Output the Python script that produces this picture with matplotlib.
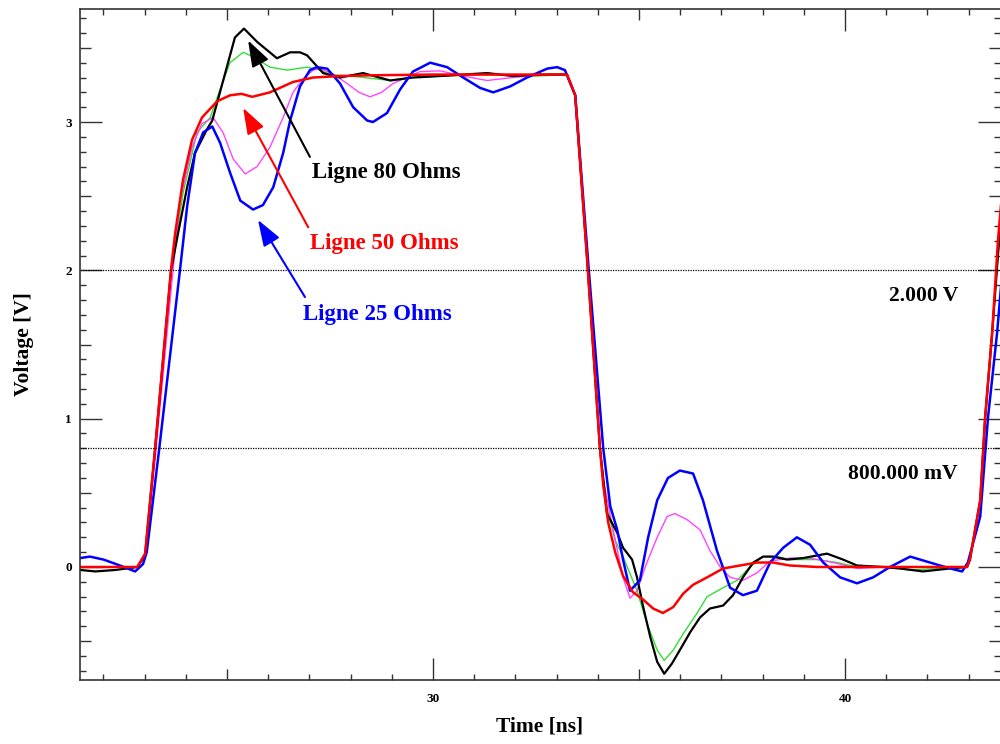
import matplotlib
matplotlib.use("Agg")
import matplotlib.pyplot as plt
from matplotlib.ticker import FixedLocator, MultipleLocator, FuncFormatter

# traces: (time ns, voltage V)
ligne80 = [(21.43, -0.02), (21.8, -0.03), (22.3, -0.02), (22.82, 0.0), (23.01, 0.08), (23.25, 0.79),
           (23.64, 2.0), (23.81, 2.25), (24.03, 2.56), (24.22, 2.79), (24.51, 2.95), (24.64, 3.01),
           (25.19, 3.57), (25.41, 3.63), (25.73, 3.54), (26.21, 3.43), (26.53, 3.47), (26.77, 3.47),
           (26.94, 3.45), (27.33, 3.33), (27.74, 3.30), (28.30, 3.33), (28.96, 3.28), (29.51, 3.30),
           (30.17, 3.31), (31.31, 3.33), (31.94, 3.31), (32.6, 3.32), (33.08, 3.32), (33.25, 3.32),
           (33.45, 3.18), (33.74, 2.07), (34.05, 0.80), (34.22, 0.36), (34.47, 0.23), (34.61, 0.13),
           (34.83, 0.05), (34.95, -0.07), (35.10, -0.27), (35.27, -0.47), (35.44, -0.64), (35.61, -0.72),
           (35.80, -0.65), (35.99, -0.56), (36.24, -0.44), (36.48, -0.34), (36.72, -0.28), (37.04, -0.26),
           (37.28, -0.19), (37.52, -0.07), (37.77, 0.03), (38.01, 0.07), (38.25, 0.07), (38.59, 0.05),
           (38.98, 0.06), (39.56, 0.09), (39.95, 0.05), (40.29, 0.01), (40.92, 0.0), (41.33, -0.01),
           (41.89, -0.03), (42.55, -0.01), (42.96, 0.0), (43.03, 0.05), (43.28, 0.45), (43.40, 1.01),
           (43.57, 1.58), (43.71, 2.1), (43.88, 2.7)]

ligne65 = [(21.43, 0.0), (22.82, 0.0), (23.01, 0.08), (23.25, 0.79), (23.64, 2.0), (23.81, 2.3),
           (23.93, 2.52), (24.27, 2.93), (24.59, 3.03), (24.83, 3.22), (25.07, 3.40), (25.39, 3.47),
           (25.63, 3.44), (26.04, 3.37), (26.46, 3.35), (26.94, 3.37), (27.26, 3.35), (27.50, 3.32),
           (28.0, 3.31), (28.96, 3.28), (29.5, 3.30), (30.2, 3.31), (31.3, 3.32), (32.5, 3.31),
           (33.25, 3.32), (33.45, 3.18), (33.74, 2.07), (34.05, 0.80), (34.22, 0.40), (34.42, 0.18),
           (34.61, 0.07), (34.95, -0.16), (35.19, -0.38), (35.44, -0.56), (35.61, -0.63), (35.83, -0.56),
           (36.07, -0.45), (36.41, -0.31), (36.65, -0.20), (37.04, -0.14), (37.38, -0.09), (37.69, 0.0),
           (38.01, 0.07), (38.35, 0.07), (38.66, 0.05), (39.32, 0.05), (39.81, 0.03), (40.12, 0.01),
           (40.9, 0.0), (41.6, -0.02), (42.3, -0.01), (42.96, 0.0), (43.03, 0.05), (43.28, 0.45),
           (43.40, 1.01), (43.57, 1.58), (43.71, 2.1), (43.88, 2.7)]

ligne50 = [(21.43, 0.0), (22.0, 0.0), (22.82, 0.0), (23.01, 0.09), (23.25, 0.79), (23.64, 2.01),
           (23.74, 2.25), (23.93, 2.61), (24.15, 2.88), (24.39, 3.03), (24.76, 3.14), (25.07, 3.18),
           (25.35, 3.19), (25.61, 3.17), (26.04, 3.20), (26.60, 3.27), (27.09, 3.30), (27.74, 3.31),
           (28.5, 3.315), (30.0, 3.32), (32.0, 3.32), (33.08, 3.32), (33.25, 3.32), (33.45, 3.18),
           (33.74, 2.07), (34.05, 0.80), (34.13, 0.55), (34.25, 0.30), (34.42, 0.10), (34.61, -0.06),
           (34.85, -0.17), (35.10, -0.22), (35.34, -0.28), (35.58, -0.31), (35.83, -0.27), (36.07, -0.18),
           (36.31, -0.12), (36.65, -0.07), (37.04, -0.01), (37.45, 0.01), (37.86, 0.03), (38.25, 0.03),
           (38.66, 0.01), (39.32, 0.0), (40.0, 0.0), (42.0, 0.0), (42.96, 0.0), (43.03, 0.05),
           (43.28, 0.45), (43.40, 1.01), (43.57, 1.58), (43.71, 2.2), (43.88, 2.75)]

ligne35 = [(21.43, 0.0), (22.82, 0.0), (23.01, 0.07), (23.25, 0.72), (23.67, 1.95), (23.86, 2.47),
           (24.15, 2.83), (24.39, 2.99), (24.66, 3.03), (24.90, 2.93), (25.15, 2.75), (25.44, 2.65),
           (25.73, 2.70), (26.04, 2.83), (26.36, 3.03), (26.60, 3.20), (26.84, 3.29), (27.09, 3.35),
           (27.26, 3.36), (27.6, 3.32), (27.91, 3.26), (28.2, 3.20), (28.47, 3.17), (28.75, 3.20),
           (29.03, 3.26), (29.68, 3.34), (30.17, 3.345), (30.73, 3.31), (31.31, 3.28), (31.94, 3.30),
           (32.77, 3.32), (33.25, 3.32), (33.45, 3.18), (33.74, 2.07), (34.05, 0.80), (34.13, 0.59),
           (34.37, 0.25), (34.61, -0.07), (34.78, -0.21), (34.95, -0.16), (35.19, 0.03), (35.44, 0.20),
           (35.68, 0.34), (35.87, 0.36), (36.16, 0.32), (36.48, 0.25), (36.72, 0.11), (36.97, 0.0),
           (37.21, -0.07), (37.52, -0.09), (37.86, -0.04), (38.18, 0.04), (38.66, 0.06), (39.15, 0.06),
           (39.71, 0.03), (40.29, -0.01), (40.92, 0.0), (42.96, 0.0), (43.03, 0.05), (43.28, 0.45),
           (43.40, 1.01), (43.57, 1.58), (43.71, 2.1), (43.88, 2.7)]

ligne25 = [(21.43, 0.06), (21.67, 0.07), (22.0, 0.05), (22.4, 0.01), (22.77, -0.03), (22.96, 0.02),
           (23.05, 0.10), (23.35, 0.79), (23.86, 2.01), (24.03, 2.43), (24.22, 2.79), (24.42, 2.93),
           (24.64, 2.97), (24.83, 2.86), (25.07, 2.66), (25.32, 2.47), (25.63, 2.41), (25.87, 2.44),
           (26.12, 2.56), (26.36, 2.79), (26.53, 3.01), (26.77, 3.24), (27.01, 3.35), (27.18, 3.37),
           (27.43, 3.36), (27.74, 3.26), (28.06, 3.10), (28.40, 3.01), (28.54, 3.00), (28.88, 3.06),
           (29.20, 3.22), (29.51, 3.34), (29.93, 3.40), (30.34, 3.37), (30.73, 3.30), (31.14, 3.23),
           (31.46, 3.20), (31.87, 3.24), (32.28, 3.30), (32.77, 3.36), (33.01, 3.37), (33.20, 3.35),
           (33.45, 3.18), (33.78, 2.0), (34.13, 0.80), (34.30, 0.41), (34.47, 0.25), (34.61, 0.05),
           (34.78, -0.16), (35.02, -0.09), (35.22, 0.20), (35.44, 0.45), (35.7, 0.60), (35.99, 0.65),
           (36.31, 0.63), (36.55, 0.45), (36.89, 0.11), (37.21, -0.14), (37.52, -0.19), (37.86, -0.16),
           (38.18, 0.03), (38.50, 0.13), (38.83, 0.20), (39.15, 0.15), (39.47, 0.03), (39.88, -0.07),
           (40.29, -0.11), (40.68, -0.07), (41.09, 0.0), (41.58, 0.07), (42.06, 0.03), (42.55, -0.01),
           (42.84, -0.03), (42.98, 0.03), (43.28, 0.34), (43.47, 1.01), (43.69, 1.58), (43.88, 2.2)]

seuils = [2.0, 0.8]
seuil_labels = ["2.000 V", "800.000 mV"]

# label text, colour, text position, arrow tail, arrow tip
annotations = [("Ligne 80 Ohms", "black", (27.06, 2.66), (27.01, 2.765), (25.51, 3.55)),
               ("Ligne 50 Ohms", "red", (27.01, 2.18), (26.97, 2.29), (25.39, 3.095)),
               ("Ligne 25 Ohms", "blue", (26.85, 1.70), (26.89, 1.82), (25.75, 2.34))]

serif = "Liberation Serif"

fig = plt.figure(figsize=(10, 7.44), dpi=100)
ax = fig.add_axes([0.08, 1 - 680 / 744, 0.92, 671 / 744])

def trace(pts, color, lw):
    t, v = zip(*pts)
    ax.plot(t, v, color=color, lw=lw, solid_joinstyle="round")

trace(ligne65, "#33dd33", 1.0)
trace(ligne35, "#ff44ff", 1.0)
trace(ligne80, "black", 1.6)
trace(ligne25, "#0000ff", 1.8)
trace(ligne50, "#ff0000", 1.8)

for s, lab in zip(seuils, seuil_labels):
    ax.axhline(s, color="black", lw=0.9, ls=(0, (1, 1)))
    ax.text(42.74, s - 0.175, lab, ha="right", va="center", fontsize=15.5,
            fontweight="bold", family=serif)

for txt, col, pos, tail, tip in annotations:
    ax.annotate("", xy=tip, xytext=tail,
                arrowprops=dict(arrowstyle="-|>,head_length=0.8,head_width=0.28",
                                color=col, lw=1.5, mutation_scale=20,
                                shrinkA=0, shrinkB=0))
    ax.text(pos[0], pos[1], txt, color=col, ha="left", va="center",
            fontsize=16.5, fontweight="bold", family=serif)

ax.set_xlim(21.43, 43.76)
ax.set_ylim(-0.762, 3.762)

ax.xaxis.set_major_locator(FixedLocator([25, 30, 35, 40]))
ax.xaxis.set_minor_locator(MultipleLocator(1))
ax.yaxis.set_major_locator(FixedLocator([-0.5, 0, 0.5, 1, 1.5, 2, 2.5, 3, 3.5]))
ax.yaxis.set_minor_locator(MultipleLocator(0.1))
ax.xaxis.set_major_formatter(FuncFormatter(lambda x, p: "%d" % x if x % 10 == 0 else ""))
ax.yaxis.set_major_formatter(FuncFormatter(lambda y, p: "%d" % y if y % 1 == 0 else ""))

ax.tick_params(which="both", direction="in", top=True, right=True, color="#333333", width=1.0)
ax.tick_params(which="major", length=8)
ax.tick_params(which="minor", length=4)
ax.tick_params(axis="x", which="major", pad=9)
ax.tick_params(axis="y", which="major", pad=6)

for loc, tk in zip(ax.get_xticks(), ax.xaxis.get_major_ticks()):
    if loc % 10 == 0:
        tk.tick1line.set_markersize(16)
        tk.tick2line.set_markersize(16)
for loc, tk in zip(ax.get_yticks(), ax.yaxis.get_major_ticks()):
    if loc % 1 == 0:
        tk.tick1line.set_markersize(16)
        tk.tick2line.set_markersize(16)

for lab in ax.get_xticklabels() + ax.get_yticklabels():
    lab.set_family(serif)
    lab.set_fontweight("bold")
    lab.set_fontsize(9.5)

for side in ["left", "bottom", "top"]:
    ax.spines[side].set_color("#333333")
    ax.spines[side].set_linewidth(1.2)
ax.spines["right"].set_visible(False)

ax.set_xlabel("Time [ns]", fontsize=15.5, fontweight="bold", family=serif)
ax.set_ylabel("Voltage [V]", fontsize=15.5, fontweight="bold", family=serif)
ax.xaxis.set_label_coords(0.5, -0.055)
ax.yaxis.set_label_coords(-0.0505, 0.5)

fig.savefig("out.png", dpi=100)
